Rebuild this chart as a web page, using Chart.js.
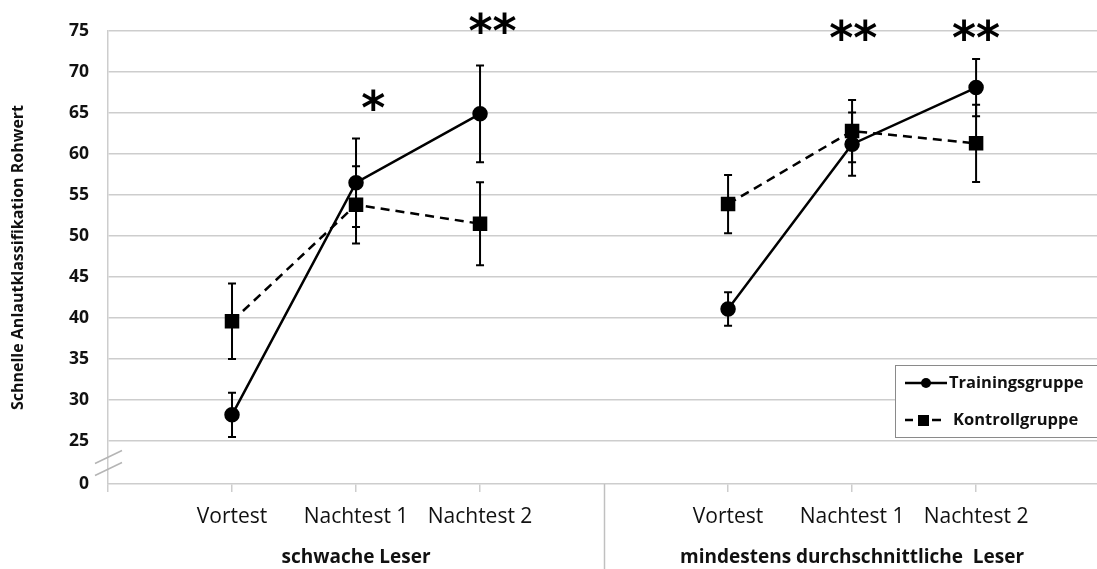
<!DOCTYPE html>
<html>
<head>
<meta charset="utf-8">
<script src="https://cdn.jsdelivr.net/npm/chart.js@4"></script>
<style>
  html, body { margin: 0; padding: 0; background: #fff; }
  #wrap { width: 1097px; height: 569px; position: relative; }
</style>
</head>
<body>
<div id="wrap"><canvas id="anlautChart"></canvas></div>
<script>
// Messzeitpunkte (x-Positionen) und Beschriftungen
const positions = [1, 2, 3, 5, 6, 7];
const dividerX = 4;
const tickLabels = ['Vortest', 'Nachtest 1', 'Nachtest 2', 'Vortest', 'Nachtest 1', 'Nachtest 2'];
const groupLabels = ['schwache Leser', 'mindestens durchschnittliche  Leser'];
const yTicks = [25, 30, 35, 40, 45, 50, 55, 60, 65, 70, 75];

// Mittelwerte und Fehlerbalken
const trainingMeans = [28.2, 56.5, 64.9, 41.1, 61.2, 68.1];
const trainingErrors = [2.7, 5.4, 5.9, 2.05, 3.85, 3.5];
const kontrollMeans = [39.6, 53.8, 51.5, 53.9, 62.8, 61.3];
const kontrollErrors = [4.6, 4.7, 5.05, 3.55, 3.8, 4.7];

// Signifikanzsterne
const stars = ['', '*', '**', '', '**', '**'];
const starNudge = [0, 0.14, 0.1, 0, 0.01, 0];
const starLevel = [null, 66.6, 76.0, null, 75.1, 75.1];

// Achsenbruch: 0 wird knapp unter 25 gezeichnet
const Y_ZERO = 19.76;

const GRID = '#cdcdcd';

function toPoints(values) {
    const pts = [];
    positions.forEach(function (x, i) {
        if (i === 3) pts.push({ x: dividerX, y: null }); // Lücke zwischen den Gruppen
        pts.push({ x: x, y: values[i] });
    });
    return pts;
}

const extras = {
    id: 'extras',
    beforeDatasetsDraw(chart) {
        const ctx = chart.ctx;
        const xs = chart.scales.x, ys = chart.scales.y;
        ctx.save();
        ctx.strokeStyle = '#000';
        ctx.lineWidth = 2;
        [[trainingMeans, trainingErrors], [kontrollMeans, kontrollErrors]].forEach(function (pair) {
            positions.forEach(function (x, i) {
                const px = xs.getPixelForValue(x);
                const top = ys.getPixelForValue(pair[0][i] + pair[1][i]);
                const bot = ys.getPixelForValue(pair[0][i] - pair[1][i]);
                ctx.beginPath();
                ctx.moveTo(px, top); ctx.lineTo(px, bot);
                ctx.moveTo(px - 4, top); ctx.lineTo(px + 4, top);
                ctx.moveTo(px - 4, bot); ctx.lineTo(px + 4, bot);
                ctx.stroke();
            });
        });
        ctx.restore();
    },
    afterDraw(chart) {
        const ctx = chart.ctx;
        const xs = chart.scales.x, ys = chart.scales.y;
        const area = chart.chartArea;
        ctx.save();

        // Trennlinie zwischen den Gruppen
        const dx = Math.round(xs.getPixelForValue(dividerX)) + 0.5;
        ctx.strokeStyle = '#c0c0c0';
        ctx.lineWidth = 1.5;
        ctx.beginPath();
        ctx.moveTo(dx, area.bottom); ctx.lineTo(dx, chart.height);
        ctx.stroke();

        // Achsenbruch
        const ax = area.left;
        const yb = ys.getPixelForValue((25 + Y_ZERO) / 2);
        ctx.strokeStyle = '#b5b5b5';
        ctx.lineWidth = 1.5;
        ctx.beginPath();
        ctx.moveTo(ax - 13, yb + 1); ctx.lineTo(ax + 14, yb - 12);
        ctx.moveTo(ax - 13, yb + 13); ctx.lineTo(ax + 14, yb);
        ctx.stroke();

        // Gruppenbeschriftungen
        ctx.fillStyle = '#111';
        ctx.font = 'bold 19px "Open Sans"';
        ctx.textAlign = 'center';
        ctx.textBaseline = 'alphabetic';
        ctx.fillText(groupLabels[0], xs.getPixelForValue(positions[1]), 563);
        ctx.fillText(groupLabels[1], xs.getPixelForValue(positions[4]), 563);

        // Sterne
        ctx.font = 'bold 46px "DejaVu Sans"';
        ctx.fillStyle = '#000';
        const m = ctx.measureText('*');
        const shift = (m.actualBoundingBoxAscent - m.actualBoundingBoxDescent) / 2;
        stars.forEach(function (s, i) {
            if (!s) return;
            const px = xs.getPixelForValue(positions[i] + starNudge[i]);
            const py = ys.getPixelForValue(starLevel[i]);
            ctx.fillText(s, px, py + shift);
        });

        // Legende
        const lx = 895.5, ly = 365.5, lw = 202, lh = 72;
        ctx.fillStyle = '#fff';
        ctx.fillRect(lx, ly, lw, lh);
        ctx.strokeStyle = '#8a8a8a';
        ctx.lineWidth = 1;
        ctx.strokeRect(lx, ly, lw, lh);

        ctx.strokeStyle = '#000';
        ctx.fillStyle = '#000';
        ctx.lineWidth = 2.5;
        ctx.beginPath();
        ctx.moveTo(905, 383); ctx.lineTo(947, 383);
        ctx.stroke();
        ctx.beginPath();
        ctx.arc(926, 383, 5, 0, Math.PI * 2);
        ctx.fill();

        ctx.beginPath();
        ctx.moveTo(905, 420); ctx.lineTo(913, 420);
        ctx.moveTo(932, 420); ctx.lineTo(941, 420);
        ctx.stroke();
        ctx.fillRect(918, 415, 11, 11);

        ctx.font = 'bold 16.5px "Open Sans"';
        ctx.textAlign = 'left';
        ctx.textBaseline = 'middle';
        ctx.fillStyle = '#111';
        ctx.fillText(chart.data.datasets[0].label, 949, 383);
        ctx.fillText(chart.data.datasets[1].label, 953, 420);

        ctx.restore();
    }
};

const ctx = document.getElementById('anlautChart').getContext('2d');
new Chart(ctx, {
    type: 'line',
    data: {
        datasets: [{
            label: 'Trainingsgruppe',
            data: toPoints(trainingMeans),
            borderColor: '#000',
            backgroundColor: '#000',
            borderWidth: 2.5,
            pointStyle: 'circle',
            pointRadius: 6.5,
            spanGaps: false
        }, {
            label: 'Kontrollgruppe',
            data: toPoints(kontrollMeans),
            borderColor: '#000',
            backgroundColor: '#000',
            borderWidth: 2.5,
            borderDash: [9, 6],
            pointStyle: 'rect',
            pointRadius: 8.5,
            spanGaps: false
        }]
    },
    options: {
        responsive: true,
        maintainAspectRatio: false,
        animation: false,
        layout: { autoPadding: false, padding: { top: 31, right: 0, left: 0, bottom: 0 } },
        plugins: {
            legend: { display: false },
            tooltip: { enabled: false }
        },
        scales: {
            x: {
                type: 'linear',
                min: 0,
                max: 7.975,
                afterBuildTicks: function (scale) {
                    scale.ticks = [0].concat(positions).map(function (v) { return { value: v }; });
                },
                afterFit: function (scale) {
                    scale.height = 85;
                    scale.paddingLeft = 0;
                    scale.paddingRight = 0;
                },
                ticks: {
                    autoSkip: false,
                    maxRotation: 0,
                    padding: 12,
                    color: '#111',
                    font: { family: 'Open Sans', size: 21 },
                    callback: function (value) {
                        const i = positions.indexOf(value);
                        return i < 0 ? '' : tickLabels[i];
                    }
                },
                grid: { drawOnChartArea: false, drawTicks: true, tickLength: 8, color: GRID, lineWidth: 1.5 },
                border: { color: GRID, width: 1.5 }
            },
            y: {
                min: Y_ZERO,
                max: 75,
                afterBuildTicks: function (scale) {
                    scale.ticks = [Y_ZERO].concat(yTicks).map(function (v) { return { value: v }; });
                },
                afterFit: function (scale) { scale.width = 108; },
                ticks: {
                    padding: 19,
                    color: '#111',
                    font: { family: 'Open Sans', size: 17.5, weight: 'bold' },
                    callback: function (value) { return value < 25 ? '0' : value; }
                },
                grid: {
                    drawTicks: false,
                    lineWidth: 1.5,
                    color: function (c) { return c.tick && c.tick.value < 25 ? 'rgba(0,0,0,0)' : GRID; }
                },
                border: { color: GRID, width: 1.5 },
                title: {
                    display: true,
                    text: 'Schnelle Anlautklassifikation Rohwert',
                    color: '#111',
                    font: { family: 'Open Sans', size: 16, weight: 'bold' },
                    padding: { top: 9, bottom: 0 }
                }
            }
        }
    },
    plugins: [extras]
});
</script>
</body>
</html>
